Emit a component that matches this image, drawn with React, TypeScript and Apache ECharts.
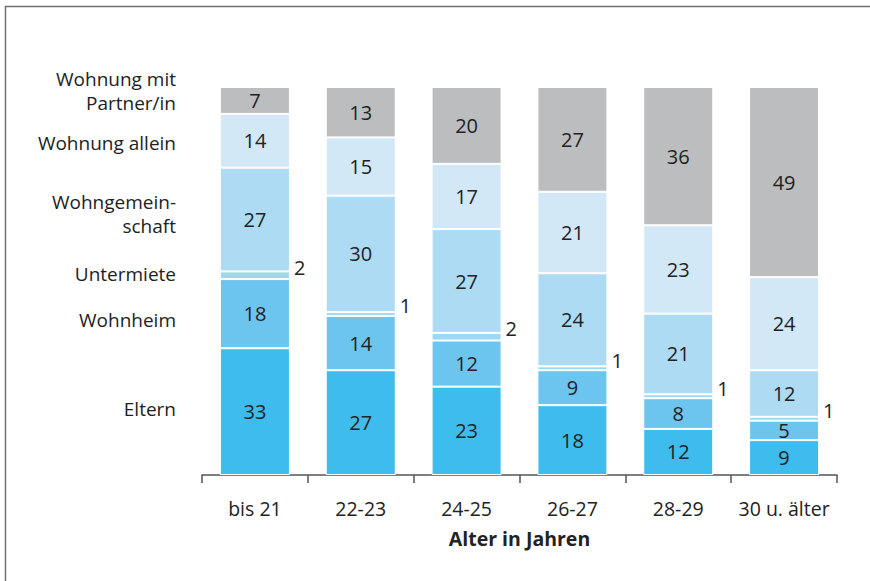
import React, { useEffect, useRef } from "react";
import * as echarts from "echarts";

const categories = ["bis 21", "22-23", "24-25", "26-27", "28-29", "30 u. älter"];
const seriesNames = ["Eltern", "Wohnheim", "Untermiete", "Wohngemeinschaft", "Wohnung allein", "Wohnung mit Partner/in"];
const eltern = [33, 27, 23, 18, 12, 9];
const wohnheim = [18, 14, 12, 9, 8, 5];
const untermiete = [2, 1, 2, 1, 1, 1];
const wohngemeinschaft = [27, 30, 27, 24, 21, 12];
const wohnungAllein = [14, 15, 17, 21, 23, 24];
const wohnungPartner = [7, 13, 20, 27, 36, 49];
const legendLines = [
  { text: "Eltern", y: 409 },
  { text: "Wohnheim", y: 320 },
  { text: "Untermiete", y: 274 },
  { text: "Wohngemein-", y: 202 },
  { text: "schaft", y: 225.5 },
  { text: "Wohnung allein", y: 143 },
  { text: "Wohnung mit", y: 79 },
  { text: "Partner/in", y: 102.5 },
];
const colors = ["#3dbced", "#6cc5ef", "#9fd7f3", "#addbf3", "#d2e8f6", "#bcbdbf"];
const FONT = "'Open Sans', 'Noto Sans', sans-serif";

export default function App() {
  const ref = useRef<HTMLDivElement>(null);
  useEffect(() => {
    if (!ref.current) return;
    const chart = echarts.init(ref.current, null, { renderer: "svg" });
    const all = [eltern, wohnheim, untermiete, wohngemeinschaft, wohnungAllein, wohnungPartner];
    const totals = categories.map((_, i) => all.reduce((s, arr) => s + arr[i], 0));
    const series = all.map((arr, si) => ({
      name: seriesNames[si],
      type: "bar",
      stack: "total",
      barWidth: 70,
      data: arr.map((v, i) => ({ value: (v / totals[i]) * 100, raw: v })),
      itemStyle: { color: colors[si], borderColor: "#ffffff", borderWidth: 1 },
      label: si === 2
        ? {
            show: true,
            position: "right",
            distance: 4,
            offset: [0, -8],
            color: "#222",
            fontSize: 20,
            fontFamily: FONT,
            formatter: (p: any) => String(p.data.raw),
          }
        : {
            show: true,
            position: "inside",
            color: "#222",
            fontSize: 20,
            fontFamily: FONT,
            formatter: (p: any) => String(p.data.raw),
          },
    }));
    chart.setOption({
      animation: false,
      grid: { left: 202, right: 33, top: 87, bottom: 106 },
      xAxis: {
        type: "category",
        data: categories,
        axisLine: { lineStyle: { color: "#555", width: 1.5 } },
        axisTick: { show: true, interval: 0, length: 8, lineStyle: { color: "#555", width: 1.5 } },
        axisLabel: { interval: 0, color: "#222", fontSize: 19.5, fontFamily: FONT, margin: 23 },
        name: "Alter in Jahren",
        nameLocation: "middle",
        nameGap: 53,
        nameTextStyle: { color: "#222", fontSize: 19.5, fontWeight: "bold", fontFamily: FONT },
      },
      yAxis: { type: "value", min: 0, max: 100, show: false },
      series,
      graphic: [
        { type: "line", shape: { x1: 5, y1: 6.5, x2: 870, y2: 6.5 }, style: { stroke: "#707070", lineWidth: 1.5 } },
        { type: "line", shape: { x1: 5.5, y1: 6, x2: 5.5, y2: 581 }, style: { stroke: "#707070", lineWidth: 1.5 } },
        ...legendLines.map((l) => ({
          type: "text",
          x: 176,
          y: l.y,
          style: {
            text: l.text,
            fill: "#222",
            fontSize: 19,
            fontFamily: FONT,
            align: "right",
            verticalAlign: "middle",
          },
        })),
      ],
    });
    return () => chart.dispose();
  }, []);
  return <div ref={ref} style={{ position: "fixed", left: 0, top: 0, width: 870, height: 581, background: "#fff" }} />;
}
